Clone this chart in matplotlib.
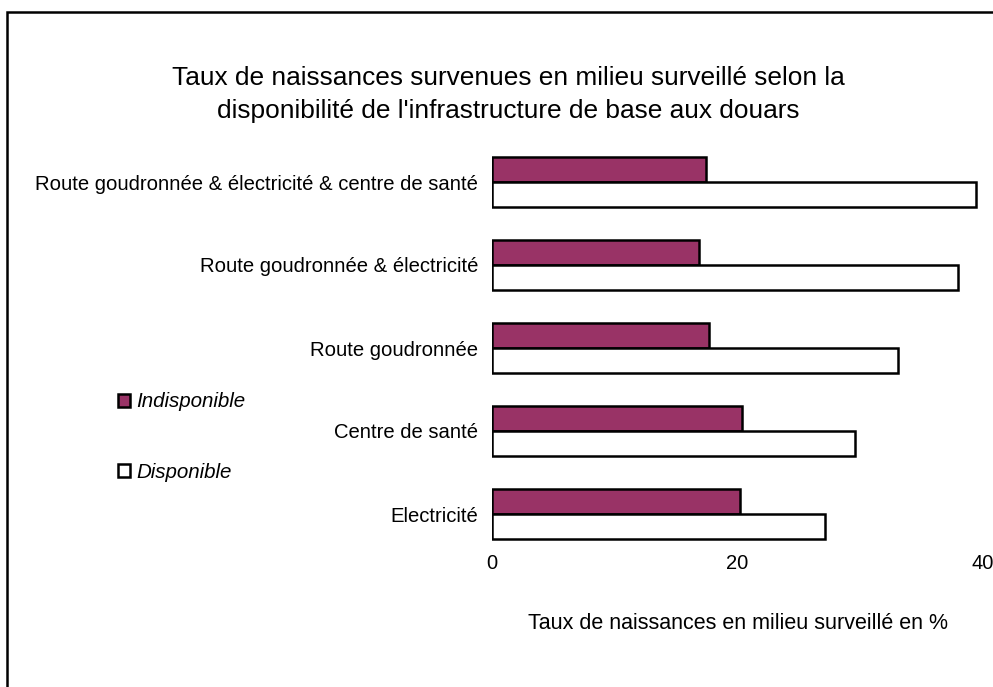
import matplotlib
matplotlib.use("Agg")
import matplotlib.pyplot as plt
from matplotlib.patches import Patch, Rectangle
import numpy as np

categories = ["Electricité", "Centre de santé", "Route goudronnée",
              "Route goudronnée & électricité",
              "Route goudronnée & électricité & centre de santé"]
indisponible = [20.2, 20.4, 17.7, 16.9, 17.4]
disponible = [27.1, 29.6, 33.1, 38.0, 39.4]
series_names = ["Indisponible", "Disponible"]
xticks = [0, 20, 40]

plt.rcParams['font.family'] = ['Liberation Sans', 'DejaVu Sans']

W, H = 993, 687
fig = plt.figure(figsize=(W/100, H/100), dpi=100)
ax = fig.add_axes([492/W, 1-555.5/H, (983-492)/W, 415/H])

y = np.arange(len(categories))
h = 0.30
ax.barh(y + h/2, indisponible, height=h, color="#993366", edgecolor="black", linewidth=1.8)
ax.barh(y - h/2, disponible, height=h, color="white", edgecolor="black", linewidth=1.8)

ax.set_xlim(0, 40)
ax.set_ylim(-0.5, 4.5)
ax.set_xticks(xticks)
ax.set_xticklabels([str(t) for t in xticks], fontsize=14.5)
ax.set_yticks(y)
ax.set_yticklabels(categories, fontsize=14.6)
ax.tick_params(length=0, pad=10, axis='y')
ax.tick_params(length=0, pad=-1, axis='x')
for s in ax.spines.values():
    s.set_visible(False)
ax.set_xlabel("Taux de naissances en milieu surveillé en %", fontsize=15.5, labelpad=29)

fig.text(508/W, 1-94.5/H, "Taux de naissances survenues en milieu surveillé selon la\ndisponibilité de l'infrastructure de base aux douars",
         ha='center', va='center', fontsize=18.9, linespacing=1.47)

handles = [Patch(facecolor="#993366", edgecolor="black", linewidth=1.8),
           Patch(facecolor="white", edgecolor="black", linewidth=1.8)]
fig.legend(handles, series_names, loc='center left', bbox_to_anchor=(99/W, 1-437/H),
           frameon=False, prop={'style': 'italic', 'size': 14.8},
           handlelength=0.6, handleheight=0.6, handletextpad=0.3, labelspacing=2.5)

fig.patches.append(Rectangle((7/W, -0.05), 1.1, 1-12/H+0.05, transform=fig.transFigure,
                             fill=False, edgecolor="black", linewidth=1.8, clip_on=False))

fig.savefig("out.png", dpi=100)
